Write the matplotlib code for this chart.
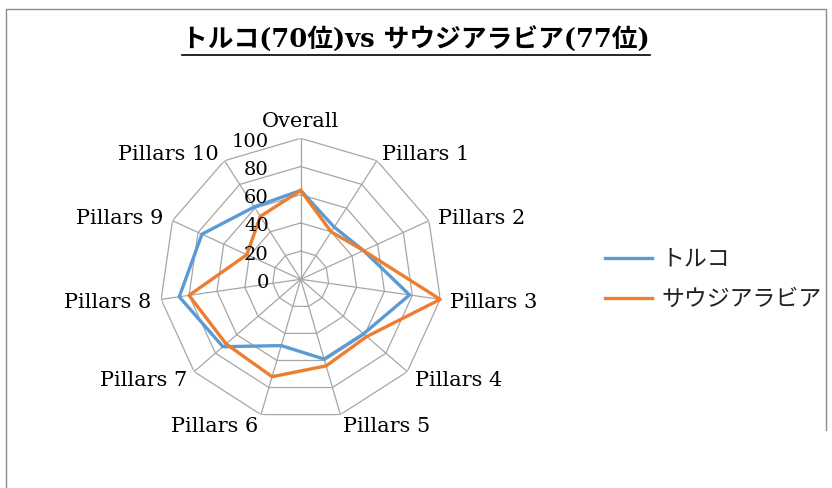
import numpy as np
import matplotlib.pyplot as plt
from matplotlib.lines import Line2D

categories = ['Overall'] + ['Pillars %d' % i for i in range(1, 11)]
turkey = [63, 44, 49, 78, 59, 59, 49, 73, 87, 77, 61]
saudi = [63, 40, 49, 100, 62, 64, 72, 70, 80, 42, 53]
ticks = [0, 20, 40, 60, 80, 100]
series_names = ['トルコ', 'サウジアラビア']
title = 'トルコ(70位)vs サウジアラビア(77位)'

plt.rcParams['font.family'] = ['DejaVu Serif', 'Noto Sans CJK JP']

W, H = 832, 488
fig = plt.figure(figsize=(W / 100, H / 100), dpi=100)

# radar centre at (300.7, 279.3) px, radius 141 px
cx, cy, R = 300.7, 279.3, 141
ax = fig.add_axes([(cx - R) / W, (H - cy - R) / H, 2 * R / W, 2 * R / H],
                  projection='polar')
ax.set_theta_offset(np.pi / 2)
ax.set_theta_direction(-1)
ax.set_ylim(0, 100)
ax.grid(False)
ax.spines['polar'].set_visible(False)
ax.set_xticks([])
ax.set_yticks([])
ax.patch.set_alpha(0)

n = len(categories)
angles = np.arange(n) * 2 * np.pi / n
closed = np.append(angles, angles[0])

grid_col = '#a6a6a6'
for t in ticks[1:]:
    ax.plot(closed, [t] * (n + 1), color=grid_col, lw=0.9)
for a in angles:
    ax.plot([a, a], [0, 100], color=grid_col, lw=0.9)

ax.plot(closed, turkey + turkey[:1], color='#5B9BD5', lw=2.4, clip_on=False,
        solid_joinstyle='round', label=series_names[0])
ax.plot(closed, saudi + saudi[:1], color='#ED7D31', lw=2.4, clip_on=False,
        solid_joinstyle='round', label=series_names[1])

# radial tick labels to the left of the top spoke
for t in ticks:
    ax.annotate(str(t), xy=(0, t), xytext=(-23, -2.5), textcoords='offset points',
                ha='right', va='center', fontsize=14, annotation_clip=False)

# category labels
for a, lab in zip(angles, categories):
    s, c = np.sin(a), np.cos(a)
    if abs(s) < 0.1:
        ha, va, off = 'center', 'bottom', 5
    else:
        ha, va, off = ('left' if s > 0 else 'right'), 'center', 7
    ax.annotate(lab, xy=(a, 100), xytext=(off * s, off * c - (0 if va == 'bottom' else 1.5)),
                textcoords='offset points', ha=ha, va=va, fontsize=15,
                annotation_clip=False)

handles, labels = ax.get_legend_handles_labels()
fig.legend(handles, labels, loc='center left',
           bbox_to_anchor=(605 / W, 1 - 280 / H), frameon=False,
           fontsize=16.5, handlelength=2.05, handletextpad=0.4,
           labelspacing=0.8, borderpad=0, borderaxespad=0,
           labelcolor='#222222')

tt = fig.text(0.5, 1 - 40 / H, title, ha='center', va='center',
              fontsize=18.5, fontweight='bold')

# underline under the title
fig.canvas.draw()
bb = tt.get_window_extent()
fig.add_artist(Line2D([bb.x0 / W, bb.x1 / W], [1 - 55 / H, 1 - 55 / H],
                      transform=fig.transFigure, color='black', lw=1.2))

# chart area frame (left, top, right)
fc = '#8c8c8c'
fig.add_artist(Line2D([5.5 / W, 5.5 / W, 826 / W, 826 / W],
                      [0, 1 - 8.5 / H, 1 - 8.5 / H, 1 - 430 / H],
                      transform=fig.transFigure, color=fc, lw=1.0))

fig.savefig('out.png', dpi=100)
